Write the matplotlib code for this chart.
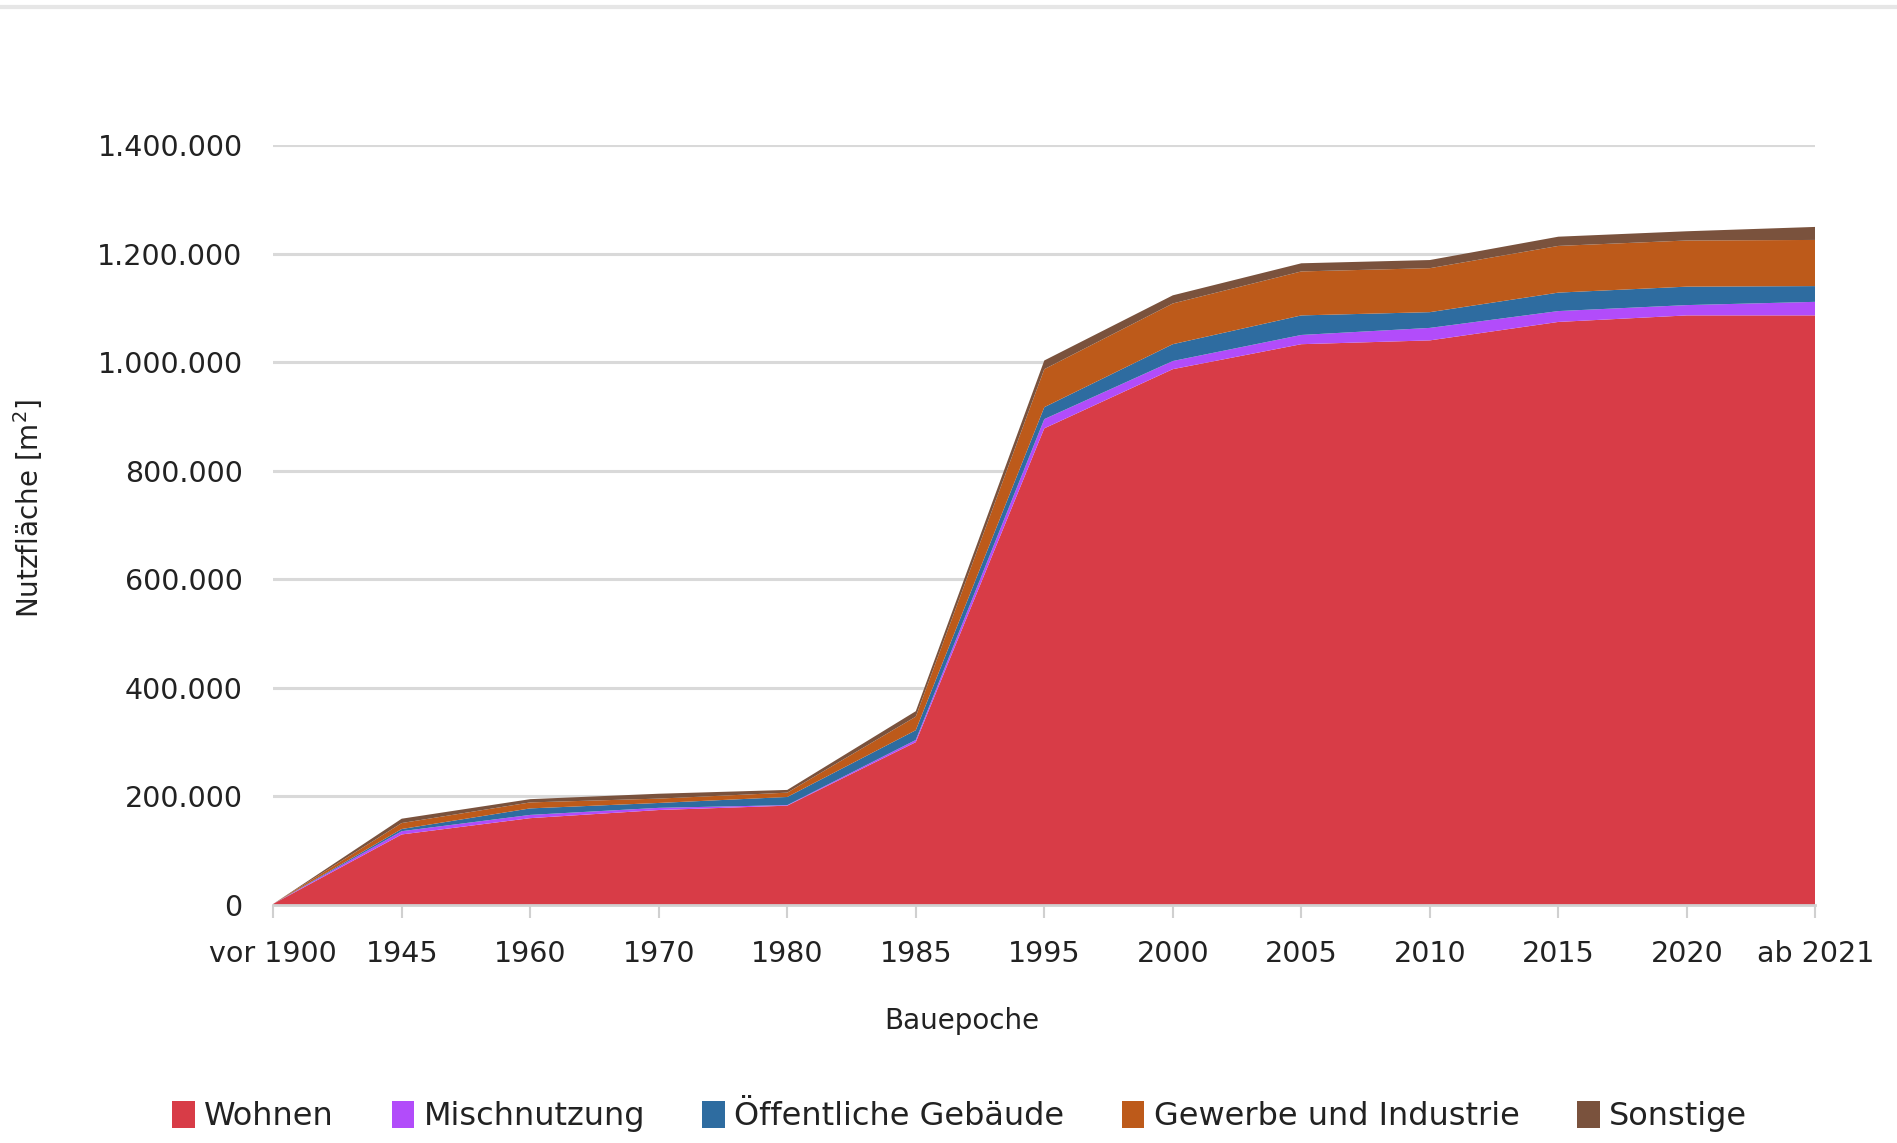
import matplotlib.pyplot as plt
import matplotlib.ticker as mticker
from matplotlib.lines import Line2D
import numpy as np

# Bauepochen und Nutzfläche je Nutzungsart (m²)
epochen = ['vor 1900', '1945', '1960', '1970', '1980', '1985', '1995',
           '2000', '2005', '2010', '2015', '2020', 'ab 2021']
wohnen = [2000, 130000, 160000, 175000, 183000, 300000, 878000,
          987000, 1033000, 1040000, 1074000, 1086000, 1086000]
mischnutzung = [0, 6000, 6000, 4000, 1000, 4000, 17000,
                15000, 17000, 23000, 20000, 19000, 25000]
oeffentlich = [0, 4000, 12000, 9000, 15000, 18000, 22000,
               31000, 36000, 29000, 34000, 34000, 29000]
gewerbe = [0, 11000, 11000, 8000, 8000, 25000, 70000,
           75000, 81000, 81000, 86000, 85000, 85000]
sonstige = [0, 8000, 6000, 9000, 5000, 10000, 16000,
            15000, 15000, 15000, 17000, 17000, 24000]

namen = ['Wohnen', 'Mischnutzung', 'Öffentliche Gebäude',
         'Gewerbe und Industrie', 'Sonstige']
farben = ['#D83C47', '#B24CFA', '#2E6CA0', '#BD5A1A', '#7A523D']

plt.rcParams['font.family'] = ['DejaVu Sans']

fig = plt.figure(figsize=(18.97, 11.43), dpi=100)
ax = fig.add_axes([0.144, 0.2082, 0.813, 0.665])

x = np.arange(len(epochen))
ax.stackplot(x, wohnen, mischnutzung, oeffentlich, gewerbe, sonstige,
             colors=farben, labels=namen, linewidth=0, zorder=3)

ax.set_xlim(0, len(epochen) - 1)
ax.set_ylim(0, 1400000)
ax.set_yticks(np.arange(0, 1400001, 200000))
ax.yaxis.set_major_formatter(mticker.FuncFormatter(
    lambda v, p: f'{int(v):,}'.replace(',', '.')))
ax.set_xticks(x)
ax.set_xticklabels(epochen)

ax.grid(axis='y', color='#d9d9d9', linewidth=2.2, zorder=0)
for s in ['top', 'right', 'left']:
    ax.spines[s].set_visible(False)
ax.spines['bottom'].set_color('#d0d0d0')
ax.spines['bottom'].set_linewidth(2)
ax.spines['bottom'].set_zorder(4)

ax.tick_params(axis='y', length=0, pad=22, labelsize=20.5, labelcolor='#222222')
ax.tick_params(axis='x', length=9, width=1.5, color='#d0d0d0', pad=16,
               labelsize=20.5, labelcolor='#222222')

fig.text(0.507, 0.107, 'Bauepoche', ha='center', va='center',
         fontsize=20, color='#222222')
fig.text(0.015, 0.555, 'Nutzfläche [m$^2$]', ha='center', va='center',
         rotation=90, fontsize=20, color='#222222')

# graue Linie am oberen Rand
fig.add_artist(Line2D([0, 1], [0.994, 0.994], color='#e6e6e6',
                      linewidth=3, transform=fig.transFigure))

fig.legend(loc='center', bbox_to_anchor=(0.506, 0.023), ncol=5,
           frameon=False, fontsize=23, handlelength=0.7, handleheight=0.9,
           handletextpad=0.3, columnspacing=1.8, labelcolor='#222222')

fig.savefig('out.png', dpi=100)
